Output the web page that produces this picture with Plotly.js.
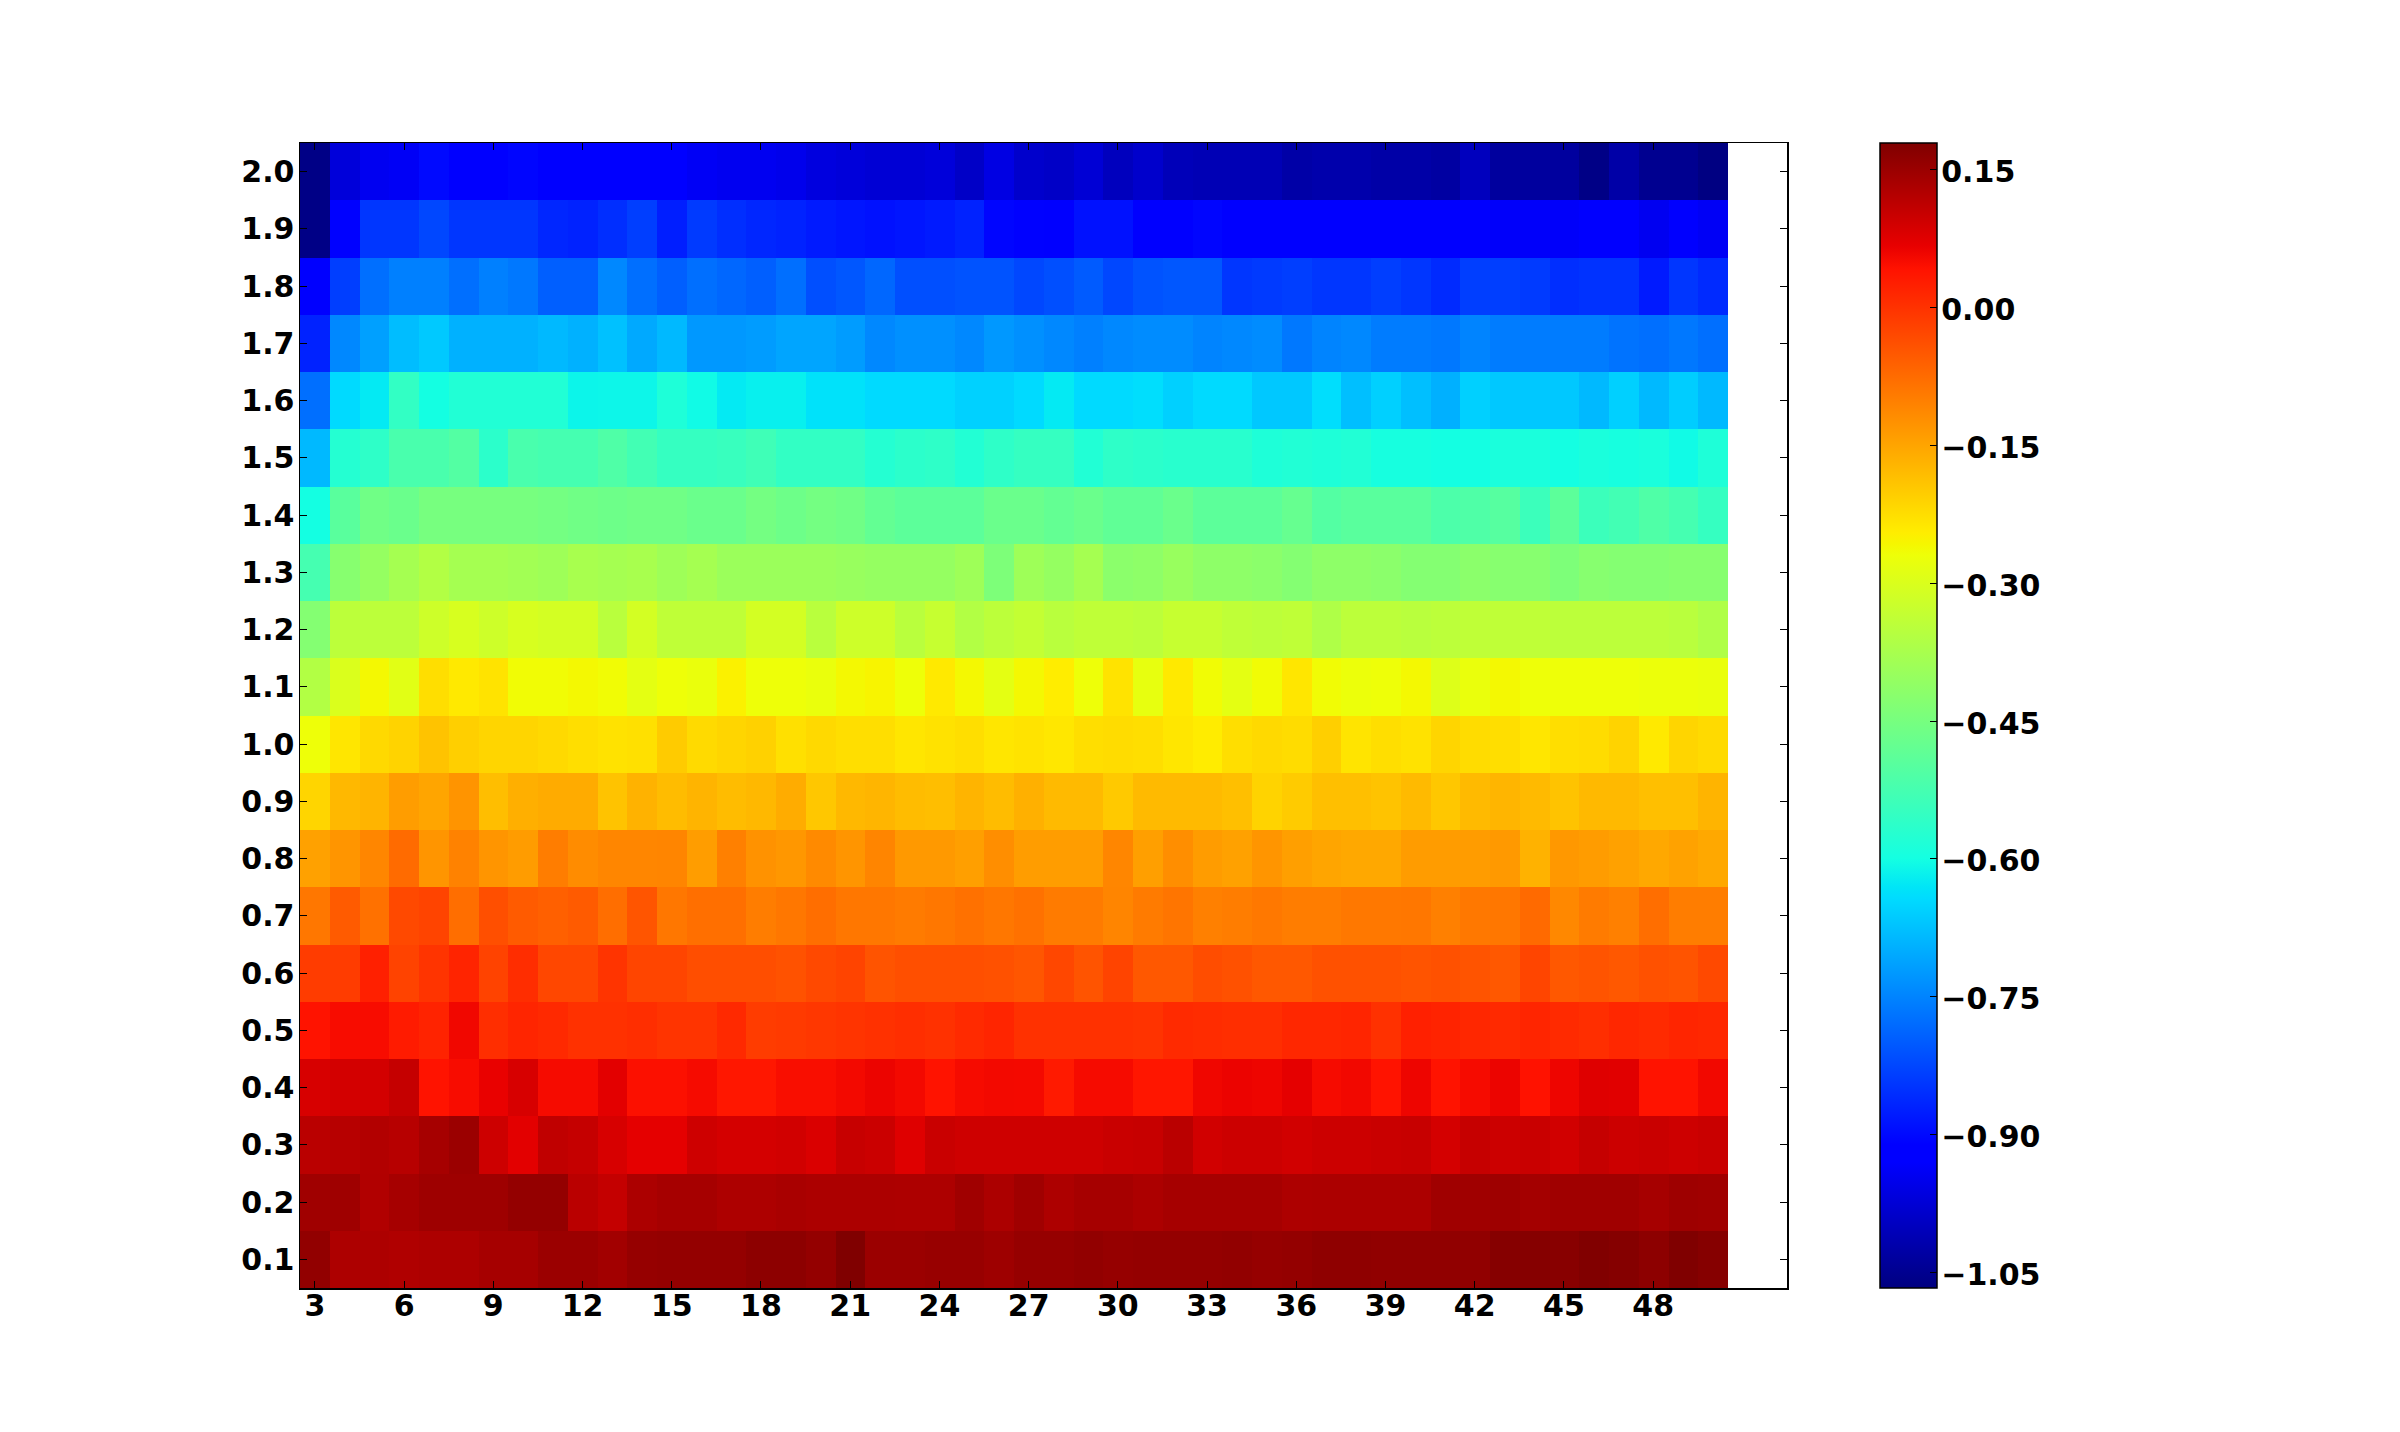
<!DOCTYPE html>
<html>
<head>
<meta charset="utf-8">
<script src="https://cdn.plot.ly/plotly-3.0.1.min.js"></script>
<style>html,body{margin:0;padding:0;background:#fff}</style>
</head>
<body>
<div id="chart" style="width:2400px;height:1432px"></div>
<script>
const columns = [3,4,5,6,7,8,9,10,11,12,13,14,15,16,17,18,19,20,21,22,23,24,25,26,27,28,29,30,31,32,33,34,35,36,37,38,39,40,41,42,43,44,45,46,47,48,49,50];
const rowLabels = [0.1,0.2,0.3,0.4,0.5,0.6,0.7,0.8,0.9,1.0,1.1,1.2,1.3,1.4,1.5,1.6,1.7,1.8,1.9,2.0];
const xTicks = [3,6,9,12,15,18,21,24,27,30,33,36,39,42,45,48];
const colorTicks = [-1.05,-0.90,-0.75,-0.60,-0.45,-0.30,-0.15,0.00,0.15];
const zMin = -1.067, zMax = 0.179;

const row01 = [.160,.130,.130,.127,.130,.130,.138,.138,.150,.150,.142,.155,
 .157,.157,.157,.165,.165,.157,.180,.150,.150,.153,.153,.147,
 .155,.155,.160,.155,.157,.157,.157,.160,.155,.157,.163,.163,
 .161,.161,.161,.161,.172,.172,.170,.178,.174,.165,.179,.172];
const row02 = [.144,.146,.126,.138,.147,.147,.147,.157,.157,.116,.106,.132,
 .138,.138,.130,.130,.135,.132,.132,.132,.130,.130,.144,.132,
 .144,.130,.138,.138,.132,.138,.138,.138,.138,.130,.132,.132,
 .132,.132,.144,.144,.147,.140,.144,.144,.144,.138,.147,.144];
const row03 = [.116,.120,.125,.120,.138,.150,.096,.072,.110,.105,.085,.070,
 .070,.095,.088,.088,.092,.082,.102,.098,.077,.100,.095,.095,
 .095,.095,.095,.100,.102,.116,.092,.097,.097,.092,.097,.097,
 .100,.102,.088,.103,.097,.100,.092,.105,.097,.100,.096,.100];
const row04 = [.085,.090,.090,.105,.040,.050,.066,.085,.052,.052,.072,.045,
 .045,.052,.035,.035,.048,.048,.055,.062,.055,.040,.052,.055,
 .054,.032,.052,.052,.037,.037,.058,.063,.060,.070,.052,.056,
 .040,.060,.040,.052,.062,.042,.060,.077,.074,.040,.040,.056];
const row05 = [.040,.050,.050,.030,.020,.057,.005,.017,.012,.002,.002,.005,
 -.003,-.003,.012,-.013,-.010,-.007,-.003,.002,.005,.002,.010,.017,
 .002,.002,.002,.002,-.001,.010,.008,.005,.005,.015,.015,.017,
 .002,.023,.020,.015,.012,.017,.010,.005,.015,.010,.017,.015];
const row06 = [-.013,-.013,.023,-.022,-.002,.018,-.022,.007,-.027,-.027,-.002,-.025,
 -.025,-.037,-.037,-.037,-.042,-.030,-.024,-.045,-.038,-.038,-.038,-.040,
 -.047,-.028,-.045,-.024,-.050,-.050,-.035,-.040,-.050,-.050,-.040,-.040,
 -.040,-.045,-.040,-.045,-.050,-.025,-.050,-.045,-.050,-.040,-.045,-.030];
const row07 = [-.090,-.053,-.083,-.030,-.024,-.078,-.038,-.053,-.060,-.053,-.078,-.046,
 -.090,-.080,-.080,-.098,-.090,-.078,-.090,-.090,-.095,-.090,-.083,-.090,
 -.083,-.095,-.095,-.108,-.095,-.087,-.102,-.098,-.092,-.098,-.098,-.092,
 -.092,-.090,-.102,-.092,-.090,-.073,-.112,-.095,-.102,-.078,-.098,-.098];
const row08 = [-.145,-.130,-.110,-.075,-.130,-.105,-.130,-.138,-.098,-.118,-.110,-.110,
 -.108,-.140,-.102,-.125,-.132,-.115,-.130,-.108,-.135,-.135,-.142,-.120,
 -.140,-.140,-.140,-.110,-.142,-.120,-.138,-.145,-.130,-.143,-.150,-.155,
 -.155,-.138,-.138,-.138,-.135,-.168,-.133,-.138,-.145,-.155,-.147,-.155];
const row09 = [-.213,-.175,-.170,-.140,-.150,-.128,-.183,-.163,-.158,-.158,-.190,-.168,
 -.180,-.170,-.180,-.175,-.160,-.195,-.175,-.172,-.180,-.183,-.170,-.180,
 -.165,-.178,-.178,-.197,-.178,-.178,-.178,-.185,-.210,-.200,-.185,-.185,
 -.190,-.178,-.195,-.178,-.172,-.178,-.190,-.176,-.176,-.185,-.185,-.170];
const row10 = [-.270,-.235,-.218,-.210,-.190,-.205,-.213,-.213,-.218,-.225,-.230,-.228,
 -.200,-.220,-.213,-.208,-.228,-.218,-.225,-.225,-.235,-.230,-.225,-.235,
 -.232,-.237,-.225,-.222,-.225,-.235,-.243,-.225,-.218,-.222,-.205,-.233,
 -.225,-.230,-.213,-.222,-.225,-.236,-.225,-.222,-.210,-.240,-.213,-.220];
const row11 = [-.360,-.300,-.260,-.290,-.225,-.240,-.232,-.265,-.265,-.260,-.265,-.285,
 -.270,-.275,-.250,-.270,-.270,-.275,-.260,-.255,-.270,-.240,-.260,-.285,
 -.260,-.245,-.270,-.232,-.280,-.240,-.265,-.285,-.265,-.235,-.265,-.272,
 -.270,-.260,-.295,-.275,-.260,-.270,-.270,-.270,-.270,-.272,-.272,-.275];
const row12 = [-.430,-.345,-.345,-.345,-.320,-.305,-.320,-.305,-.310,-.310,-.350,-.310,
 -.340,-.340,-.340,-.310,-.310,-.350,-.320,-.320,-.350,-.330,-.360,-.345,
 -.335,-.350,-.340,-.340,-.345,-.330,-.330,-.340,-.345,-.340,-.365,-.345,
 -.345,-.350,-.345,-.340,-.340,-.340,-.345,-.345,-.345,-.345,-.350,-.365];
const row13 = [-.525,-.425,-.405,-.380,-.360,-.380,-.380,-.385,-.390,-.375,-.380,-.375,
 -.390,-.380,-.395,-.395,-.395,-.395,-.400,-.405,-.405,-.405,-.390,-.440,
 -.390,-.405,-.380,-.420,-.415,-.400,-.415,-.415,-.420,-.430,-.415,-.415,
 -.420,-.430,-.430,-.420,-.425,-.425,-.440,-.425,-.430,-.430,-.425,-.425];
const row14 = [-.600,-.495,-.460,-.470,-.450,-.450,-.450,-.450,-.455,-.460,-.465,-.460,
 -.460,-.470,-.470,-.455,-.465,-.455,-.460,-.480,-.490,-.490,-.490,-.470,
 -.470,-.480,-.470,-.485,-.485,-.470,-.490,-.490,-.490,-.475,-.505,-.495,
 -.495,-.495,-.515,-.510,-.500,-.540,-.490,-.540,-.530,-.510,-.525,-.550];
const row15 = [-.685,-.575,-.560,-.520,-.520,-.505,-.565,-.520,-.525,-.525,-.510,-.530,
 -.550,-.550,-.545,-.535,-.555,-.555,-.555,-.575,-.565,-.560,-.578,-.560,
 -.550,-.550,-.580,-.560,-.565,-.570,-.570,-.570,-.585,-.580,-.585,-.580,
 -.595,-.595,-.600,-.600,-.590,-.590,-.600,-.590,-.595,-.590,-.605,-.585];
const row16 = [-.775,-.645,-.625,-.555,-.600,-.580,-.580,-.580,-.580,-.612,-.610,-.610,
 -.585,-.605,-.625,-.618,-.618,-.635,-.635,-.645,-.645,-.645,-.655,-.655,
 -.645,-.625,-.645,-.645,-.640,-.657,-.645,-.645,-.667,-.667,-.640,-.677,
 -.657,-.677,-.696,-.657,-.667,-.667,-.667,-.685,-.657,-.685,-.660,-.685];
const row17 = [-.870,-.745,-.715,-.680,-.665,-.695,-.695,-.695,-.685,-.695,-.675,-.705,
 -.685,-.725,-.725,-.720,-.710,-.710,-.720,-.745,-.735,-.735,-.745,-.725,
 -.735,-.745,-.755,-.745,-.740,-.740,-.750,-.745,-.740,-.765,-.750,-.745,
 -.760,-.760,-.765,-.750,-.760,-.760,-.760,-.760,-.770,-.775,-.765,-.775];
const row18 = [-.930,-.835,-.775,-.755,-.755,-.775,-.755,-.765,-.795,-.795,-.745,-.775,
 -.795,-.775,-.785,-.795,-.775,-.815,-.805,-.785,-.815,-.815,-.810,-.810,
 -.825,-.815,-.800,-.825,-.810,-.805,-.805,-.845,-.840,-.835,-.845,-.845,
 -.835,-.845,-.860,-.835,-.835,-.840,-.855,-.850,-.850,-.880,-.845,-.860];
const row19 = [-1.060,-.910,-.845,-.845,-.825,-.845,-.845,-.845,-.865,-.870,-.855,-.835,
 -.875,-.840,-.855,-.865,-.870,-.880,-.885,-.890,-.885,-.880,-.870,-.905,
 -.910,-.920,-.890,-.890,-.920,-.925,-.905,-.920,-.920,-.925,-.925,-.925,
 -.925,-.925,-.925,-.925,-.935,-.935,-.935,-.930,-.930,-.945,-.925,-.940];
const row20 = [-1.060,-.970,-.945,-.940,-.900,-.930,-.930,-.905,-.930,-.925,-.925,-.925,
 -.925,-.940,-.945,-.945,-.950,-.965,-.970,-.975,-.975,-.970,-.990,-.960,
 -.985,-.990,-.975,-1.000,-.985,-1.005,-1.010,-1.010,-1.010,-1.025,-1.020,-1.020,
 -1.025,-1.025,-1.030,-1.000,-1.035,-1.035,-1.035,-1.060,-1.025,-1.050,-1.050,-1.065];

const zRows = [row01,row02,row03,row04,row05,row06,row07,row08,row09,row10,
               row11,row12,row13,row14,row15,row16,row17,row18,row19,row20];

const jet = [
 [0,'rgb(0,0,128)'],[0.11,'rgb(0,0,255)'],[0.125,'rgb(0,0,255)'],
 [0.34,'rgb(0,219,255)'],[0.35,'rgb(0,229,247)'],[0.375,'rgb(20,255,226)'],
 [0.64,'rgb(238,255,8)'],[0.65,'rgb(246,246,0)'],[0.66,'rgb(255,237,0)'],
 [0.89,'rgb(255,18,0)'],[0.91,'rgb(232,0,0)'],[1,'rgb(128,0,0)']
];

const font = {family:'"DejaVu Sans", sans-serif', size:30, color:'#000', weight:700};
const H = 1432;

Plotly.newPlot('chart',[{
  type:'heatmap',
  x:columns, y:rowLabels, z:zRows,
  zmin:zMin, zmax:zMax,
  colorscale:jet,
  hoverinfo:'skip',
  colorbar:{
    x:1880/2400, xanchor:'left', xpad:0,
    y:(H-715.5)/H, yanchor:'middle', ypad:0,
    len:1145/H, lenmode:'fraction',
    thickness:57, thicknessmode:'pixels',
    tickmode:'array', tickvals:colorTicks,
    tickformat:'.2f',
    ticks:'inside', ticklen:7, tickwidth:1, tickcolor:'#000',
    tickfont:font,
    outlinecolor:'#000', outlinewidth:1.5, borderwidth:0
  }
}],{
  width:2400, height:H,
  margin:{l:0,r:0,t:0,b:0,pad:0},
  paper_bgcolor:'#fff', plot_bgcolor:'#fff',
  showlegend:false,
  xaxis:{
    domain:[300/2400,1787/2400],
    range:[2.5,52.5],
    tickmode:'array', tickvals:xTicks,
    ticks:'inside', ticklen:7, tickwidth:1, tickcolor:'#000',
    tickfont:font, ticklabelstandoff:-10,
    showgrid:false, zeroline:false,
    showline:true, linecolor:'#000', linewidth:1.5, mirror:'allticks'
  },
  yaxis:{
    domain:[(H-1288)/H,(H-143)/H],
    range:[0.05,2.05],
    tickmode:'array', tickvals:rowLabels,
    tickformat:'.1f',
    ticks:'inside', ticklen:7, tickwidth:1, tickcolor:'#000',
    tickfont:font, ticklabelstandoff:-2,
    showgrid:false, zeroline:false,
    showline:true, linecolor:'#000', linewidth:1.5, mirror:'allticks'
  }
},{displayModeBar:false,staticPlot:true}).then(gd => {
  gd.querySelectorAll('.colorbar text').forEach(t => {
    t.setAttribute('x', (parseFloat(t.getAttribute('x')) || 0) - 3);
    t.setAttribute('y', (parseFloat(t.getAttribute('y')) || 0) + 2);
  });
});
</script>
</body>
</html>
